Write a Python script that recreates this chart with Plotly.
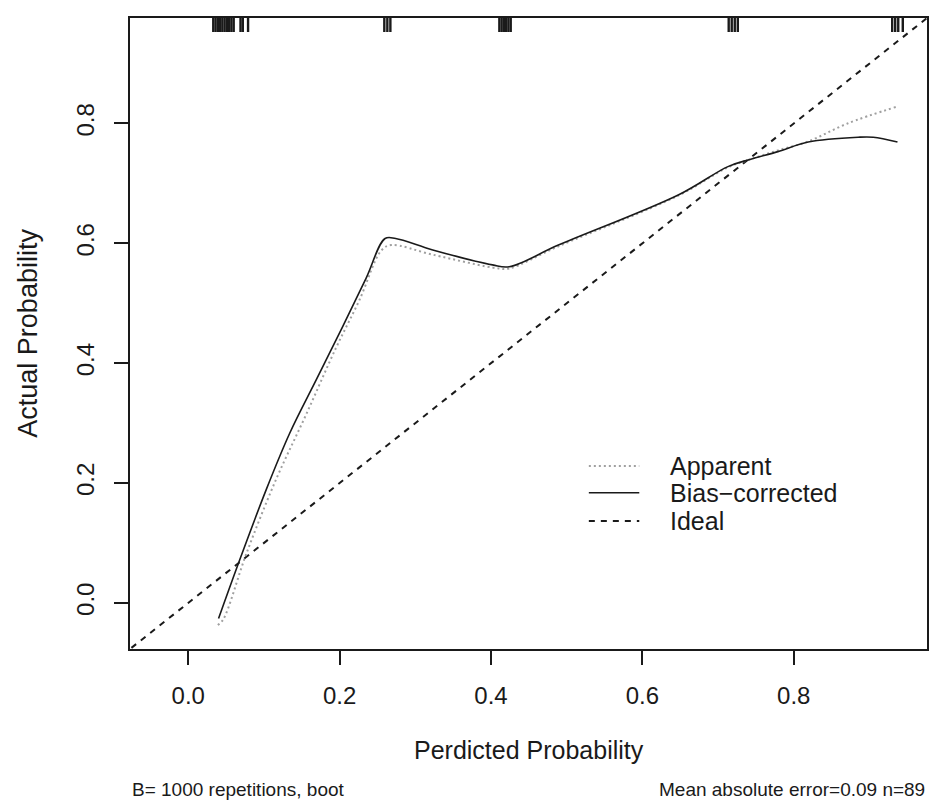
import plotly.graph_objects as go

# calibration curves
app_x = [0.039, 0.046, 0.077, 0.116, 0.156, 0.195, 0.226, 0.255, 0.268, 0.323, 0.410,
         0.424, 0.489, 0.648, 0.713, 0.742, 0.779, 0.819, 0.871, 0.936]
app_y = [-0.037, -0.028, 0.083, 0.206, 0.315, 0.425, 0.505, 0.588, 0.597, 0.581, 0.558,
         0.558, 0.595, 0.680, 0.727, 0.740, 0.755, 0.770, 0.800, 0.828]

bias_x = [0.040, 0.068, 0.103, 0.134, 0.169, 0.204, 0.235, 0.260, 0.274, 0.323, 0.402,
          0.424, 0.489, 0.648, 0.713, 0.742, 0.779, 0.819, 0.885, 0.905, 0.937]
bias_y = [-0.026, 0.072, 0.189, 0.283, 0.372, 0.461, 0.542, 0.608, 0.608, 0.589, 0.564,
          0.561, 0.597, 0.681, 0.728, 0.740, 0.753, 0.769, 0.777, 0.777, 0.769]

ideal = [-0.1, 1.0]

# rug of predicted probabilities (top of the plot)
rug_x = [0.033, 0.036, 0.039, 0.042, 0.045, 0.048, 0.051, 0.054, 0.057, 0.060, 0.069,
         0.072, 0.079, 0.259, 0.263, 0.267, 0.411, 0.414, 0.417, 0.420, 0.423, 0.426,
         0.714, 0.718, 0.722, 0.726, 0.930, 0.934, 0.938, 0.944]

tick_vals = [0.0, 0.2, 0.4, 0.6, 0.8]
tick_text = ["0.0", "0.2", "0.4", "0.6", "0.8"]

legend_names = ["Apparent", "Bias\u2212corrected", "Ideal"]

FONT = "Liberation Sans"
INK = "#1a1a1a"

fig = go.Figure()
fig.add_trace(go.Scatter(x=ideal, y=ideal, mode="lines",
                         line=dict(color=INK, width=2, dash="6px,6px"), showlegend=False))
fig.add_trace(go.Scatter(x=app_x, y=app_y, mode="lines", line_shape="spline",
                         line=dict(color="#a0a0a0", width=2, dash="2px,3px"), showlegend=False))
fig.add_trace(go.Scatter(x=bias_x, y=bias_y, mode="lines", line_shape="spline",
                         line=dict(color=INK, width=1.6), showlegend=False))

shapes = []
for rx in rug_x:
    shapes.append(dict(type="line", xref="x", yref="paper", x0=rx, x1=rx,
                       y0=1, y1=1 - 14 / 631, line=dict(color=INK, width=2.4)))

# hand-made legend (R style, no box)
leg_styles = [dict(color="#a0a0a0", width=2, dash="2px,3px"),
              dict(color=INK, width=1.6),
              dict(color=INK, width=2, dash="6px,6px")]
leg_y = [0.290, 0.2477, 0.2029]
for name, sty, ly in zip(legend_names, leg_styles, leg_y):
    shapes.append(dict(type="line", xref="paper", yref="paper", x0=0.5757, x1=0.639,
                       y0=ly, y1=ly, line=sty))

annotations = []
for name, ly in zip(legend_names, leg_y):
    annotations.append(dict(text=name, xref="paper", yref="paper", x=0.6746, y=ly,
                            xanchor="left", yanchor="middle", showarrow=False,
                            font=dict(family=FONT, size=25, color=INK)))

annotations += [
    dict(text="Perdicted Probability", xref="paper", yref="paper", x=0.5, y=-0.16,
         xanchor="center", yanchor="middle", showarrow=False,
         font=dict(family=FONT, size=25, color=INK)),
    dict(text="Actual Probability", xref="paper", yref="paper", x=-0.129, y=0.5,
         xanchor="center", yanchor="middle", textangle=-90, showarrow=False,
         font=dict(family=FONT, size=27, color=INK)),
    dict(text="B= 1000 repetitions, boot", xref="paper", yref="paper", x=0, y=-0.222,
         xanchor="left", yanchor="middle", showarrow=False,
         font=dict(family=FONT, size=19, color=INK)),
    dict(text="Mean absolute error=0.09 n=89", xref="paper", yref="paper", x=1, y=-0.222,
         xanchor="right", yanchor="middle", showarrow=False,
         font=dict(family=FONT, size=19, color=INK)),
]

axis_common = dict(range=[-0.077, 0.976], tickvals=tick_vals, ticktext=tick_text,
                   showgrid=False, zeroline=False, showline=True, mirror=True,
                   linecolor=INK, linewidth=1.5, ticks="outside", ticklen=14,
                   tickwidth=1.5, tickcolor=INK,
                   tickfont=dict(family=FONT, size=24, color=INK))

# page body adds an 8px offset, so the figure is a bit smaller than the window
fig.update_layout(
    width=929, height=794,
    margin=dict(l=122, r=8, t=10, b=153),
    paper_bgcolor="white", plot_bgcolor="white",
    xaxis=dict(**axis_common, ticklabelstandoff=10),
    yaxis=dict(**axis_common, tickangle=-90, ticklabelstandoff=11),
    shapes=shapes, annotations=annotations,
    showlegend=False,
)

fig.write_html("out.html")
